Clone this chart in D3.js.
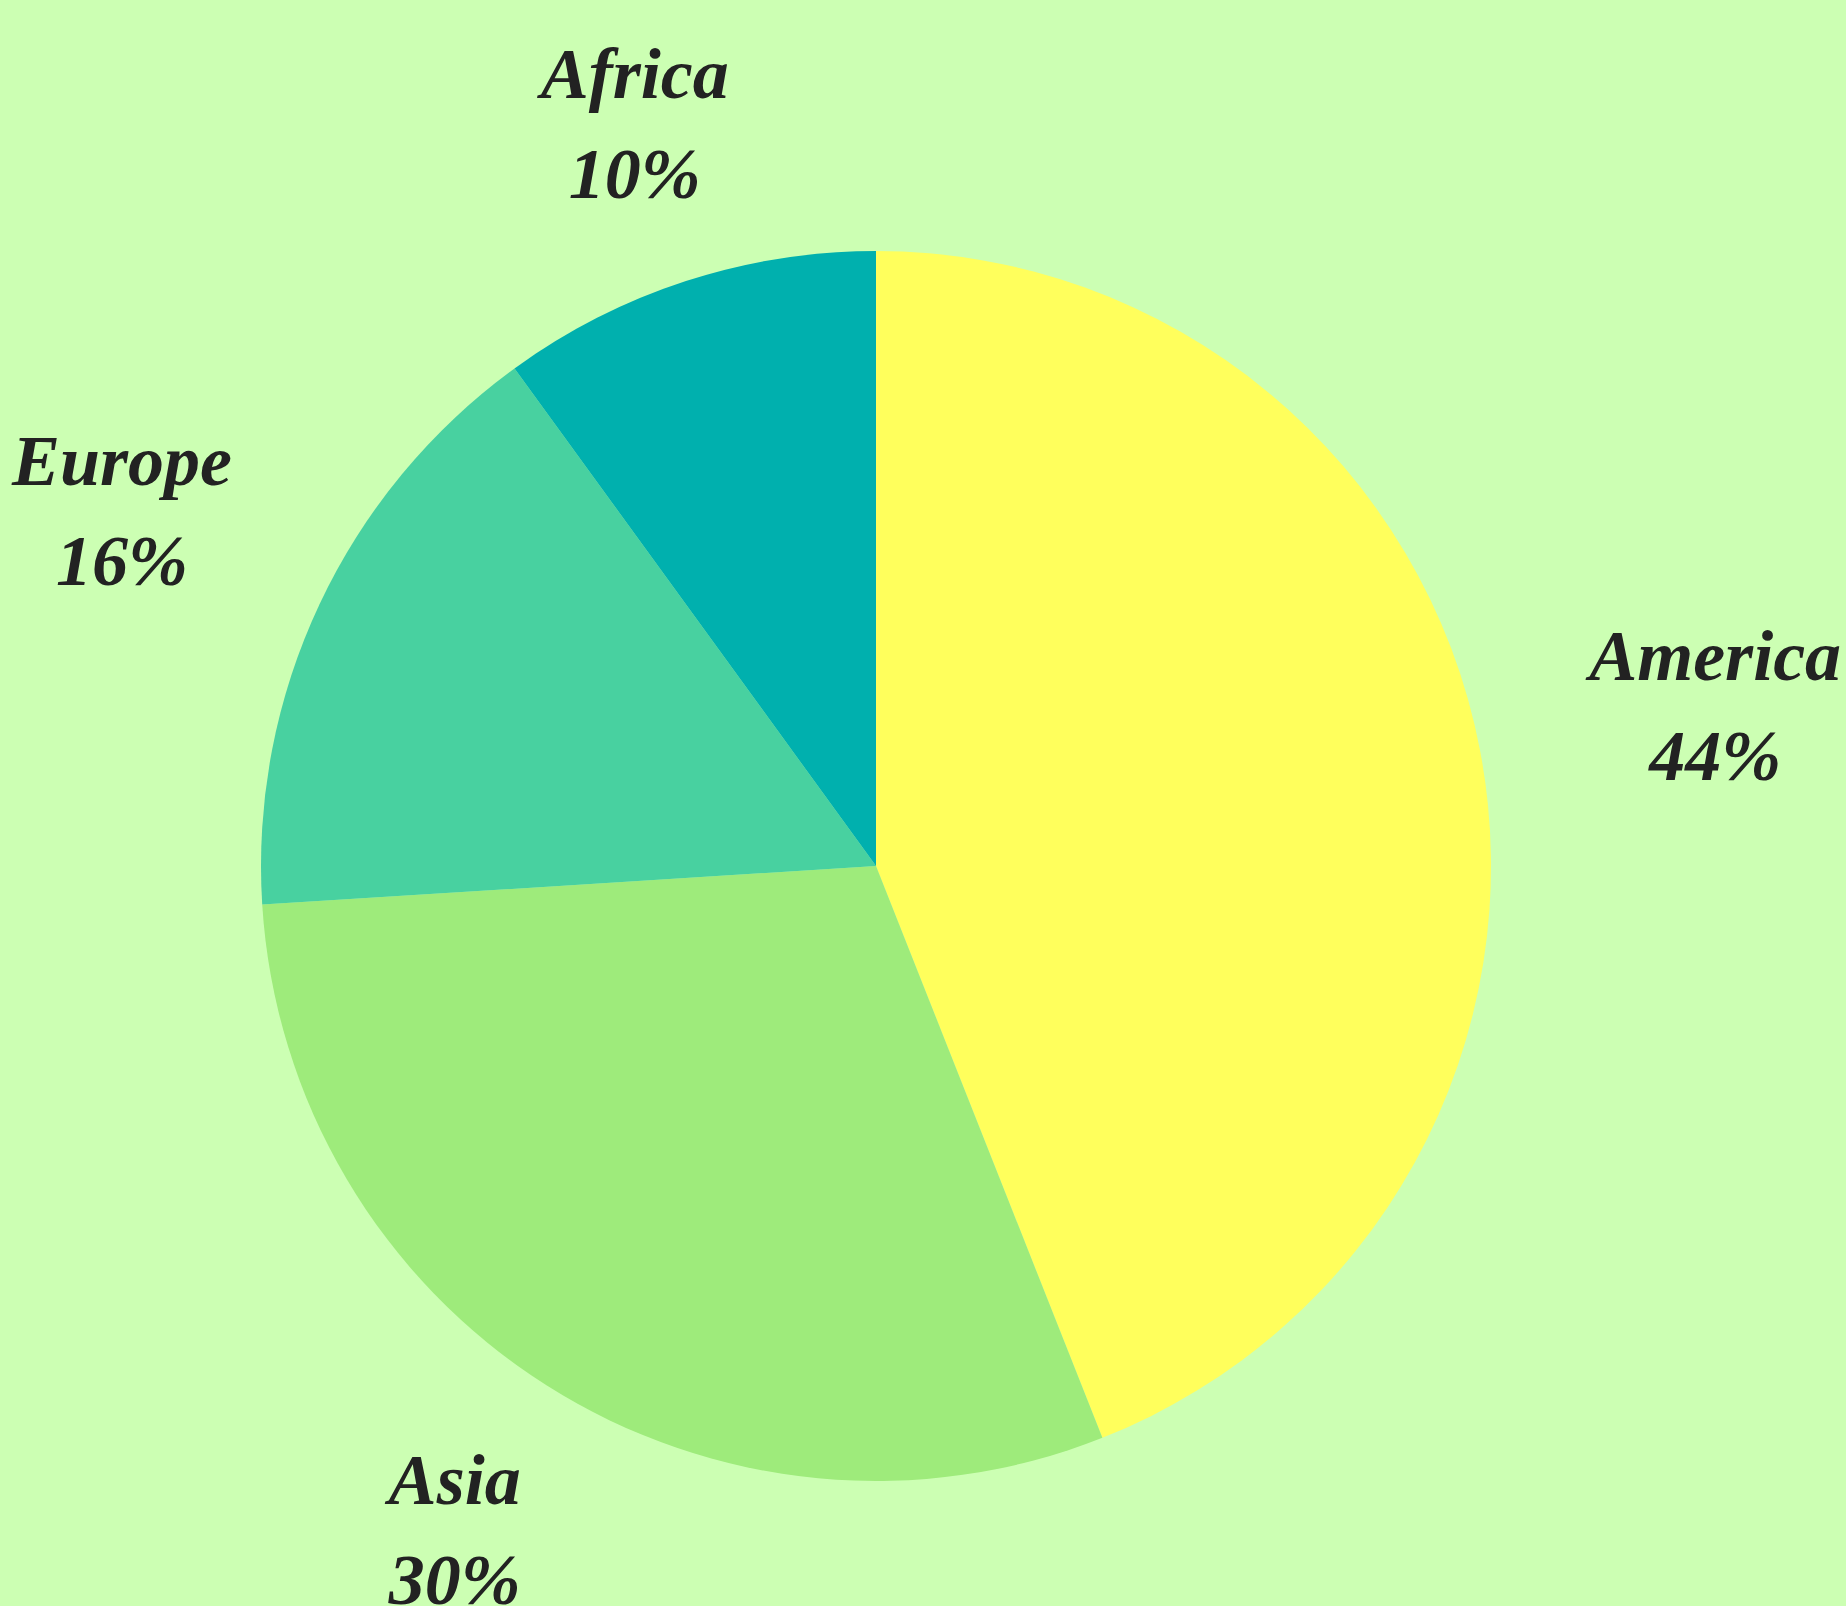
<!DOCTYPE html>
<html>
<head>
<meta charset="utf-8">
<script src="https://cdn.jsdelivr.net/npm/d3@7"></script>
<style>
  html, body { margin: 0; padding: 0; background: #ccffb3; }
  svg { display: block; }
</style>
</head>
<body>
<div id="chart"></div>
<script>
// data
const regions = ["America", "Asia", "Europe", "Africa"];
const shares = [44, 30, 16, 10];
const palette = ["#ffff5c", "#9eeb7b", "#48d1a0", "#00b0ae"];

const width = 1846;
const height = 1606;
const cx = 876;
const cy = 866;
const radius = 615;

const svg = d3
  .select("#chart")
  .append("svg")
  .attr("width", width)
  .attr("height", height);

svg
  .append("rect")
  .attr("width", width)
  .attr("height", height)
  .attr("fill", "#ccffb3");

const color = d3.scaleOrdinal().domain(regions).range(palette);

const pie = d3
  .pie()
  .sort(null)
  .value((d) => d.value);

const slices = pie(regions.map((r, i) => ({ name: r, value: shares[i] })));

const arc = d3.arc().innerRadius(0).outerRadius(radius);

const g = svg.append("g").attr("transform", `translate(${cx},${cy})`);

// ------
// SLICES
// ------
g.selectAll("path")
  .data(slices)
  .enter()
  .append("path")
  .attr("d", arc)
  .attr("fill", (d) => color(d.data.name));

// ------
// LABELS
// ------
// labels sit a bit further out on the sides, where the text is wider
function labelPos(d) {
  const a = (d.startAngle + d.endAngle) / 2;
  const s = Math.sin(a);
  const r = radius * 1.268 + radius * 0.13 * Math.pow(s, 4);
  return [r * Math.sin(a), -r * Math.cos(a)];
}

const labels = g
  .selectAll("g.label")
  .data(slices)
  .enter()
  .append("g")
  .attr("class", "label")
  .attr("transform", (d) => `translate(${labelPos(d)})`);

labels
  .append("text")
  .attr("text-anchor", "middle")
  .attr("font-family", "'Liberation Serif', serif")
  .attr("font-style", "italic")
  .attr("font-weight", "bold")
  .attr("font-size", 72)
  .attr("fill", "#222222")
  .selectAll("tspan")
  .data((d) => [d.data.name, d.data.value + "%"])
  .enter()
  .append("tspan")
  .attr("x", 0)
  .attr("y", (t, i) => (i === 0 ? -26 : 74))
  .text((t) => t);
</script>
</body>
</html>
